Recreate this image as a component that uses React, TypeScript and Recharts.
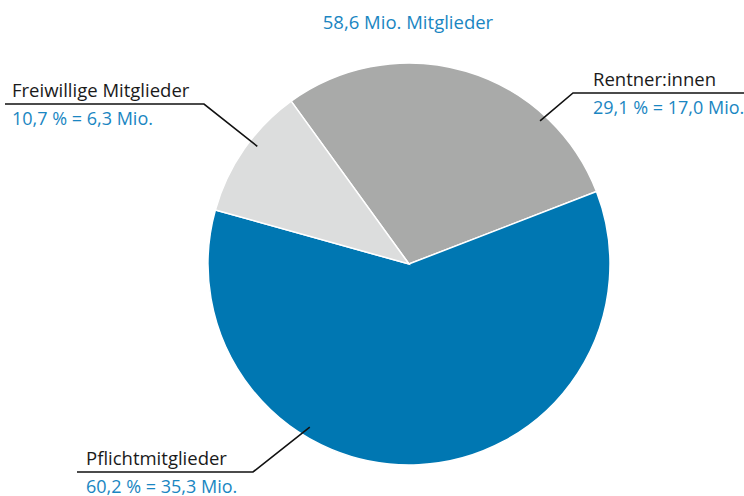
import { PieChart, Pie, Cell } from 'recharts';

const categories = ['Rentner:innen', 'Pflichtmitglieder', 'Freiwillige Mitglieder'];
const shares = [29.1, 60.2, 10.7];
const millions = ['17,0', '35,3', '6,3'];
const totalLabel = '58,6 Mio. Mitglieder';

const sliceColors = ['#a9aaa9', '#0077b2', '#dcdddd'];
const textBlue = '#1a86c2';
const FONT = '"Open Sans", "Noto Sans", sans-serif';

// annotation layout: angle on the pie where the leader touches, elbow, line end, text anchor
const labelLayout: Record<string, any> = {
  'Rentner:innen': { angle: 47.5, r: 194, elbow: [573, 93], end: [744, 93], tx: 593 },
  'Pflichtmitglieder': { angle: -121.3, r: 191, elbow: [253, 472], end: [77, 472], tx: 86 },
  'Freiwillige Mitglieder': { angle: 142.2, r: 192, elbow: [204, 104], end: [5, 104], tx: 12 },
};

const data = categories.map((name, i) => ({ name, value: shares[i], mio: millions[i] }));

const fmt = (v: number) => v.toFixed(1).replace('.', ',');

const renderLabel = (props: any) => {
  const { cx, cy, name, payload } = props;
  const l = labelLayout[name];
  if (!l) return null;
  const rad = (l.angle * Math.PI) / 180;
  const ax = cx + l.r * Math.cos(rad);
  const ay = cy - l.r * Math.sin(rad);
  const [ex, ey] = l.elbow;
  const [hx] = l.end;
  return (
    <g>
      <polyline
        points={`${ax},${ay} ${ex},${ey} ${hx},${ey}`}
        fill="none"
        stroke="#111"
        strokeWidth={1.6}
      />
      <text x={l.tx} y={ey - 7} fill="#1a1a1a" fontSize={18.5} fontFamily={FONT}>
        {name}
      </text>
      <text x={l.tx} y={ey + 20.5} fill={textBlue} fontSize={18} fontFamily={FONT}>
        {`${fmt(payload.value)} % = ${payload.mio} Mio.`}
      </text>
    </g>
  );
};

export default function App() {
  return (
    <div style={{ position: 'absolute', left: 0, top: 0, width: 744, height: 496, background: '#fff' }}>
      <PieChart
        width={744}
        height={496}
        margin={{ top: 0, right: 0, bottom: 0, left: 0 }}
        style={{ overflow: 'visible' }}
      >
        <text x={408} y={29} textAnchor="middle" fill={textBlue} fontSize={18.5} fontFamily={FONT}>
          {totalLabel}
        </text>
        <Pie
          data={data}
          dataKey="value"
          nameKey="name"
          cx={409}
          cy={264}
          outerRadius={201}
          startAngle={125.9}
          endAngle={-234.1}
          stroke="#fff"
          strokeWidth={1.5}
          label={renderLabel}
          labelLine={false}
          isAnimationActive={false}
        >
          {data.map((d, i) => (
            <Cell key={d.name} fill={sliceColors[i]} />
          ))}
        </Pie>
      </PieChart>
    </div>
  );
}
